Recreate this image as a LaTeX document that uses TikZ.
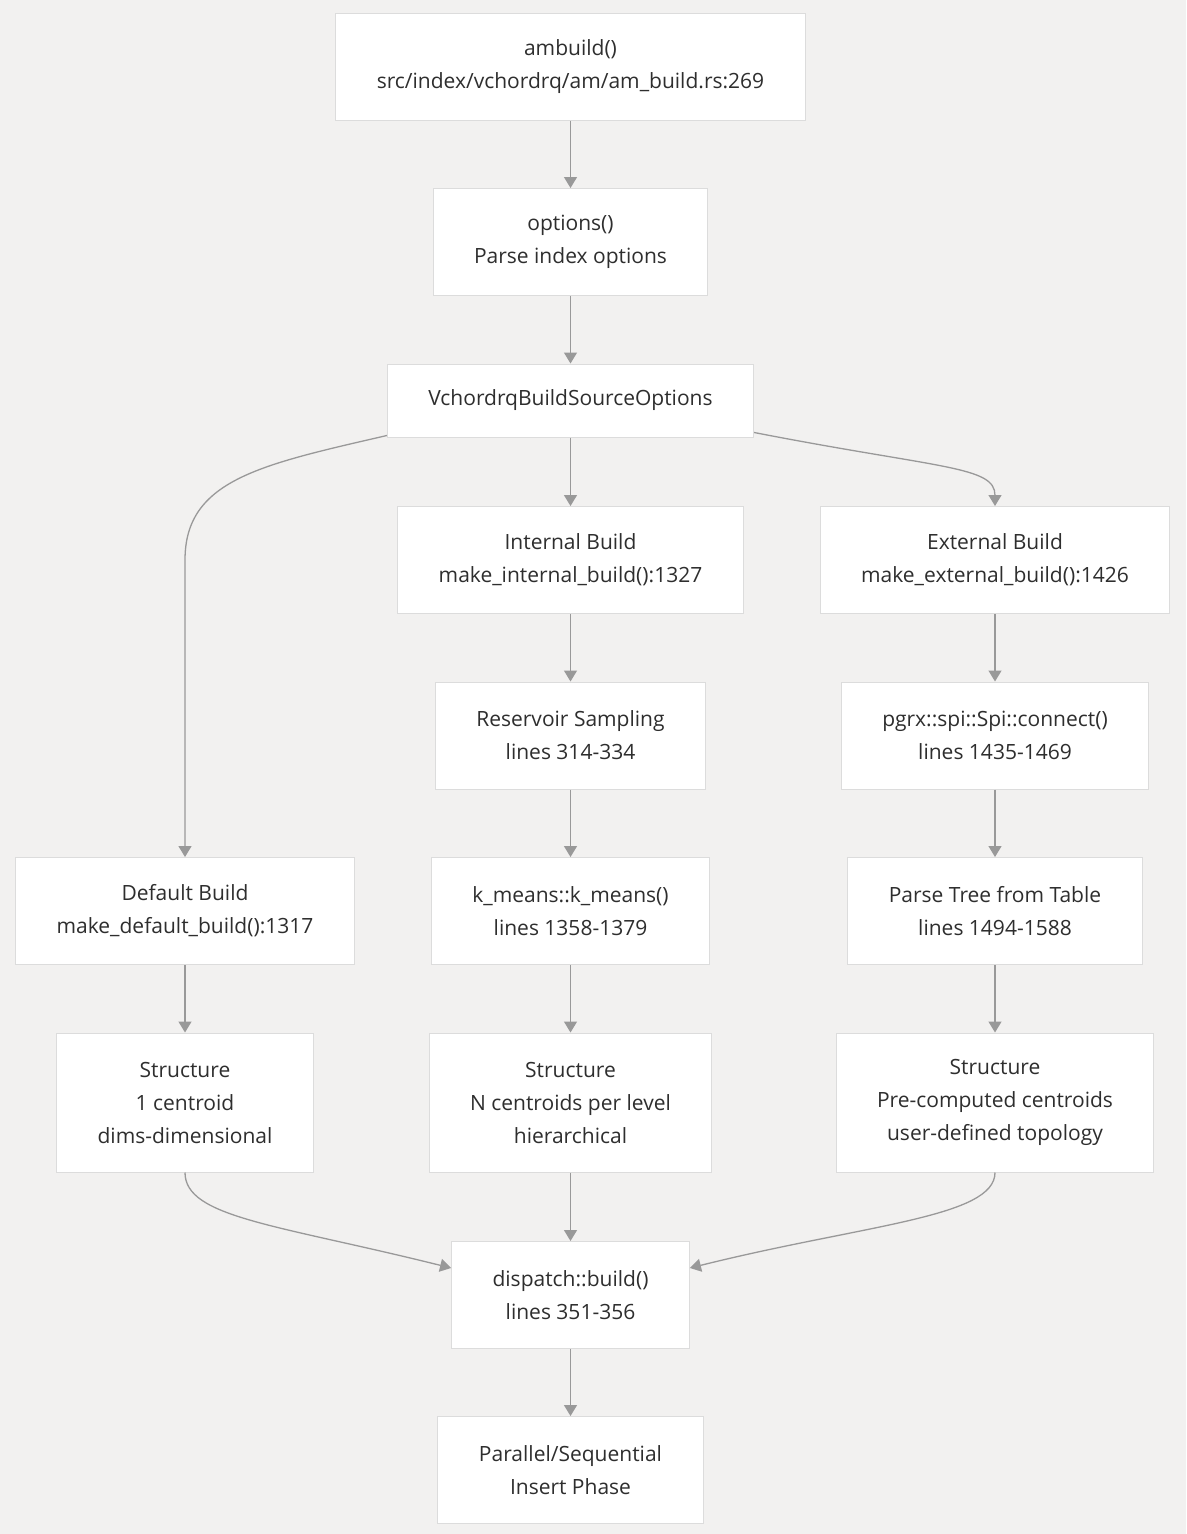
\documentclass[tikz,border=0pt]{standalone}
\usepackage{fontspec}
\setmainfont{Open Sans}
\usepackage{xcolor}
\usetikzlibrary{arrows.meta}
\usetikzlibrary{positioning}

\definecolor{bgcol}{HTML}{F2F1F0}
\definecolor{boxline}{HTML}{DCDCDC}
\definecolor{edgecol}{HTML}{999999}
\definecolor{txtcol}{HTML}{2E2E2E}

\begin{document}
\begin{tikzpicture}[x=1pt,y=1pt,
		blk/.style={draw=boxline, line width=1pt, fill=white, text=txtcol, align=center,
			font=\fontsize{21}{33}\selectfont, inner xsep=41pt, minimum height=107pt},
		tall/.style={blk, minimum height=139pt},
		flat/.style={blk, minimum height=73pt},
		arr/.style={draw=edgecol, line width=1.3pt, -{Triangle[length=11pt,width=13pt]}}]
		\fill[bgcol] (0,0) rectangle (1186,-1534);
		\useasboundingbox (0,0) rectangle (1186,-1534);
		\def \xL {185};
		\def \xM {570.5};
		\def \xR {995};
		% main column
		\node[blk] (ambuild) at (\xM,-66.5) {ambuild()\\src/index/vchordrq/am/am\_build.rs:269};
		\node[blk] (options) at (\xM,-242) {options()\\Parse index options};
		\node[flat] (srcopts) at (\xM,-400.5) {VchordrqBuildSourceOptions};
		\node[blk] (internal) at (\xM,-560) {Internal Build\\make\_internal\_build():1327};
		\node[blk] (reservoir) at (\xM,-735.5) {Reservoir Sampling\\lines 314-334};
		\node[blk] (kmeans) at (\xM,-911) {k\_means::k\_means()\\lines 1358-1379};
		\node[tall] (structM) at (\xM,-1102.5) {Structure\\N centroids per level\\hierarchical};
		\node[blk] (dispatch) at (\xM,-1295) {dispatch::build()\\lines 351-356};
		\node[blk] (insert) at (\xM,-1470) {Parallel/Sequential\\Insert Phase};
		% right column
		\node[blk] (external) at (\xR,-560) {External Build\\make\_external\_build():1426};
		\node[blk] (connect) at (\xR,-735.5) {pgrx::spi::Spi::connect()\\lines 1435-1469};
		\node[blk] (parsetree) at (\xR,-911) {Parse Tree from Table\\lines 1494-1588};
		\node[tall] (structR) at (\xR,-1102.5) {Structure\\Pre-computed centroids\\user-defined topology};
		% left column
		\node[blk] (default) at (\xL,-911) {Default Build\\make\_default\_build():1317};
		\node[tall] (structL) at (\xL,-1102.5) {Structure\\1 centroid\\dims-dimensional};

		\foreach \a/\b in {ambuild/options, options/srcopts, srcopts/internal, internal/reservoir,
			reservoir/kmeans, kmeans/structM, structM/dispatch, dispatch/insert,
			external/connect, connect/parsetree, parsetree/structR, default/structL}
		{
			\draw[arr] (\a) -- (\b);
		}
		\draw[arr] ([yshift=2pt]srcopts.south west) .. controls +(193:130) and +(90:80) .. (default.north |- internal.center) -- (default.north);
		\draw[arr] ([yshift=5pt]srcopts.south east) .. controls +(-11:190) and +(90:40) .. (external.north);
		\draw[arr] (structL.south) .. controls +(0,-45) and +(166:180) .. ([yshift=27pt]dispatch.west);
		\draw[arr] (structR.south) .. controls +(0,-45) and +(14:180) .. ([yshift=27pt]dispatch.east);
	\end{tikzpicture}
\end{document}
